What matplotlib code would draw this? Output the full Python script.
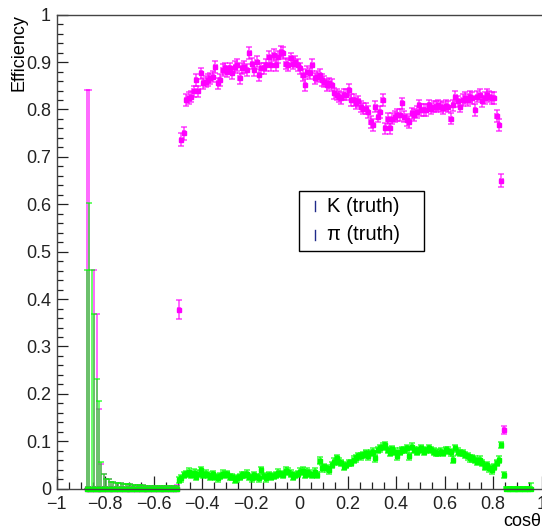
import numpy as np
import matplotlib
matplotlib.use("Agg")
import matplotlib.pyplot as plt
from matplotlib.patches import Rectangle
from matplotlib.lines import Line2D
from matplotlib.ticker import MultipleLocator
from matplotlib.colors import to_rgba

plt.rcParams['font.family'] = ['Liberation Sans', 'DejaVu Sans']

# ---------------- data ----------------
BIN_W = 0.01

# K (truth) efficiency, bins starting at cos(theta) = -0.495
K_start = -0.495
K_eff = [
    0.378,
    0.736, 0.750, 0.820, 0.824, 0.827, 0.838, 0.862, 0.838, 0.876, 0.855,
    0.859, 0.862, 0.866, 0.869, 0.890, 0.855, 0.862, 0.883, 0.887, 0.880,
    0.887, 0.876, 0.890, 0.894, 0.866, 0.887, 0.890, 0.883, 0.919, 0.897,
    0.883, 0.901, 0.873, 0.887, 0.887, 0.894, 0.911, 0.894, 0.915, 0.894,
    0.911, 0.922, 0.919, 0.897, 0.894, 0.908, 0.897, 0.901, 0.894, 0.887,
    0.873, 0.852, 0.880, 0.876, 0.894, 0.866, 0.869, 0.873, 0.862, 0.859,
    0.852, 0.855, 0.852, 0.834, 0.831, 0.827, 0.824, 0.831, 0.831, 0.841,
    0.820, 0.820, 0.813, 0.817, 0.806, 0.802, 0.802, 0.795, 0.774, 0.767,
    0.806, 0.785, 0.795, 0.820, 0.760, 0.781, 0.760, 0.781, 0.785, 0.788,
    0.788, 0.813, 0.785, 0.778, 0.774, 0.792, 0.788, 0.795, 0.809, 0.799,
    0.799, 0.799, 0.809, 0.802, 0.806, 0.806, 0.809, 0.806, 0.803, 0.808,
    0.806, 0.781, 0.809, 0.827, 0.817, 0.806, 0.820, 0.824, 0.820, 0.827,
    0.824, 0.799, 0.827, 0.831, 0.817, 0.824, 0.831, 0.827, 0.824, 0.824,
    0.786, 0.767, 0.650, 0.124,
]
K_err = [0.021, 0.014, 0.014] + [0.012] * (len(K_eff) - 5) + [0.014, 0.009]

# pi (truth) efficiency, bins starting at cos(theta) = -0.495
P_start = -0.495
P_eff = [
    0.018, 0.022, 0.029, 0.031, 0.036, 0.029, 0.034, 0.025, 0.032, 0.039,
    0.029, 0.032, 0.029, 0.025, 0.031, 0.025, 0.022, 0.027, 0.032, 0.029,
    0.031, 0.025, 0.025, 0.018, 0.022, 0.025, 0.029, 0.029, 0.032, 0.025,
    0.022, 0.029, 0.025, 0.022, 0.039, 0.027, 0.022, 0.029, 0.025, 0.027,
    0.029, 0.034, 0.031, 0.029, 0.038, 0.036, 0.032, 0.025, 0.029, 0.031,
    0.036, 0.038, 0.029, 0.036, 0.032, 0.029, 0.036, 0.029, 0.059, 0.043,
    0.046, 0.043, 0.039, 0.050, 0.057, 0.064, 0.057, 0.054, 0.046, 0.050,
    0.054,
    0.054, 0.061, 0.064, 0.069, 0.068, 0.071, 0.075, 0.068, 0.075, 0.078,
    0.064, 0.082, 0.085, 0.089, 0.092, 0.082, 0.075, 0.083, 0.078, 0.068,
    0.078, 0.082, 0.082, 0.085, 0.068, 0.089, 0.082, 0.078, 0.082, 0.085,
    0.078, 0.082, 0.085, 0.082, 0.078, 0.075, 0.076, 0.078, 0.075, 0.082,
    0.080, 0.077, 0.061, 0.085, 0.078, 0.075, 0.075, 0.071, 0.068, 0.064,
    0.064, 0.061, 0.057, 0.061, 0.054, 0.046, 0.050, 0.043, 0.039, 0.046,
    0.054, 0.061, 0.092, 0.029,
]
P_err = 0.007

# bins with zero efficiency (only an upper error) on the left side
K_zero_start = -0.875
K_zero_up = [0.841, 0.841, 0.0, 0.461, 0.369, 0.169, 0.052, 0.030, 0.020, 0.020,
             0.015, 0.015, 0.012, 0.012, 0.011, 0.010, 0.010, 0.009, 0.009, 0.008,
             0.008, 0.007, 0.007, 0.007, 0.006, 0.006, 0.006, 0.006, 0.006, 0.006,
             0.006, 0.006, 0.006, 0.006, 0.006, 0.006, 0.006, 0.008]
P_zero_start = -0.875
P_zero_up = [0.461, 0.603, 0.461, 0.369, 0.231, 0.184, 0.056, 0.030, 0.020, 0.020,
             0.015, 0.015, 0.012, 0.012, 0.011, 0.010, 0.010, 0.009, 0.009, 0.008,
             0.008, 0.007, 0.007, 0.007, 0.006, 0.006, 0.006, 0.006, 0.006, 0.006,
             0.006, 0.006, 0.006, 0.006, 0.006, 0.006, 0.006, 0.006]
# zero-efficiency bins on the right side (pi)
P_zero2_start = 0.855
P_zero2_up = [0.004, 0.004, 0.004, 0.004, 0.004, 0.004, 0.004, 0.004, 0.004, 0.004, 0.011]

legend_labels = ["K (truth)", "\u03c0 (truth)"]
MAG = "#ff00ff"
GRN = "#00ff00"
MAG_E = to_rgba(MAG, 0.75)
GRN_E = to_rgba(GRN, 0.75)


def centers(start, n):
    return np.round(start + BIN_W * np.arange(n), 4)


# ---------------- figure ----------------
W, H = 542, 531
fig = plt.figure(figsize=(W / 100, H / 100), dpi=100)
ax = fig.add_axes([56.5 / W, 1 - 488.7 / H, 485 / W, 474 / H])

common = dict(fmt='s', ms=3.0, elinewidth=1.1, capsize=2.3, capthick=1.1)

# K
kx0 = centers(K_zero_start, len(K_zero_up))
ax.errorbar(kx0, np.zeros(len(K_zero_up)), yerr=[np.zeros(len(K_zero_up)), K_zero_up],
            xerr=BIN_W / 2, mec=MAG, mfc=MAG, ecolor=MAG_E, clip_on=False, **common)
kx = centers(K_start, len(K_eff))
ax.errorbar(kx, K_eff, yerr=K_err, xerr=BIN_W / 2, mec=MAG, mfc=MAG,
            ecolor=MAG_E, **common)

# pi
px0 = centers(P_zero_start, len(P_zero_up))
ax.errorbar(px0, np.zeros(len(P_zero_up)), yerr=[np.zeros(len(P_zero_up)), P_zero_up],
            xerr=BIN_W / 2, mec=GRN, mfc=GRN, ecolor=GRN_E, clip_on=False, **common)
px = centers(P_start, len(P_eff))
ax.errorbar(px, P_eff, yerr=P_err, xerr=BIN_W / 2, mec=GRN, mfc=GRN,
            ecolor=GRN_E, **common)
px2 = centers(P_zero2_start, len(P_zero2_up))
ax.errorbar(px2, np.zeros(len(P_zero2_up)), yerr=[np.zeros(len(P_zero2_up)), P_zero2_up],
            xerr=BIN_W / 2, mec=GRN, mfc=GRN, ecolor=GRN_E, clip_on=False, **common)

ax.set_xlim(-1, 1)
ax.set_ylim(0, 1)

ax.xaxis.set_minor_locator(MultipleLocator(0.05))
ax.yaxis.set_minor_locator(MultipleLocator(0.02))


def fmt(v):
    if abs(v) < 1e-9:
        return "0"
    if abs(abs(v) - 1) < 1e-9:
        return ("\u22121" if v < 0 else "1")
    s = f"{abs(v):.1f}"
    return ("\u2212" + s) if v < 0 else s


xt = np.round(np.arange(-1, 1.01, 0.2), 2)
yt = np.round(np.arange(0, 1.01, 0.1), 2)
ax.set_xticks(xt)
ax.set_xticklabels([fmt(v) for v in xt])
ax.set_yticks(yt)
ax.set_yticklabels([fmt(v) for v in yt])

ax.tick_params(axis='both', which='both', direction='in', top=False, right=False,
               colors='#222222', labelsize=13, width=0.9)
ax.tick_params(axis='x', which='major', length=9.5, pad=5)
ax.tick_params(axis='x', which='minor', length=4.7)
ax.tick_params(axis='y', which='major', length=8, pad=4)
ax.tick_params(axis='y', which='minor', length=4.5)

for s in ['left', 'bottom', 'top']:
    ax.spines[s].set_color('#444444')
    ax.spines[s].set_linewidth(1.0)
ax.spines['right'].set_visible(False)

fig.text(19 / W, 1 - 14 / H, "Efficiency", rotation=90, ha='center', va='top', fontsize=13)
fig.text(541 / W, 1 - 521 / H, "cos\u03b8", ha='right', va='center', fontsize=13)

# legend box
fig.patches.append(Rectangle((299 / W, 1 - 251 / H), 125 / W, 60 / H,
                             transform=fig.transFigure, facecolor='white',
                             edgecolor='black', linewidth=1.0, zorder=10))
for i, lab in enumerate(legend_labels):
    yc = 206 + 29 * i
    fig.lines.append(Line2D([315 / W, 315 / W], [1 - (yc - 5) / H, 1 - (yc + 5) / H],
                            transform=fig.transFigure, color='#1f2a8a', lw=1.0, zorder=11))
    fig.text(327 / W, 1 - yc / H, lab, ha='left', va='center', fontsize=14.5, zorder=12)

fig.savefig("out.png", dpi=100)
